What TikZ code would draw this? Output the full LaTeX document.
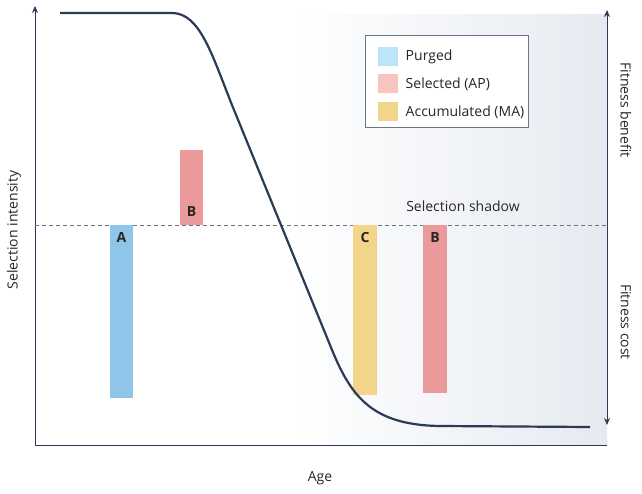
\documentclass[tikz,border=0pt]{standalone}
\usepackage{fontspec}
\setmainfont{Open Sans}
\usetikzlibrary{arrows.meta,positioning}
\definecolor{navy}{HTML}{2B3A55}
\definecolor{barblue}{HTML}{8EC5E8}
\definecolor{barpink}{HTML}{EA9A9B}
\definecolor{baryellow}{HTML}{F2D48A}
\definecolor{keyblue}{HTML}{BDE5F8}
\definecolor{keypink}{HTML}{F9C5C0}
\definecolor{shadow}{HTML}{E6EAF0}
\begin{document}
\begin{tikzpicture}[x=1pt,y=-1pt,>={Stealth[length=7pt,width=6pt]},
                    every node/.style={font=\fontsize{14}{16}\selectfont,text=black!85},
                    barlabel/.style={font=\fontsize{14}{16}\selectfont\bfseries,anchor=north},
                    key/.style={minimum width=20pt,minimum height=19pt,inner sep=0pt}]
  \useasboundingbox (0,0) rectangle (642,494);
  % selection shadow
  \shade[left color=white,right color=shadow] (290,15) rectangle (607,445);

  % axes
  \draw[navy,line width=1pt,->] (35,445) -- (35,6);
  \draw[navy,line width=1pt] (35,445) -- (607,445);
  \draw[navy,line width=1pt,<->] (607,10) -- (607,425);
  \draw[navy!70,dash pattern=on 4pt off 3pt] (35,225) -- (607,225);

  % bars
  \fill[barblue]   (110,225) rectangle (133,398);
  \fill[barpink]   (180,150) rectangle (203,225);
  \fill[baryellow] (353,225) rectangle (377,395);
  \fill[barpink]   (423,225) rectangle (447,393);
  \node[barlabel] (labA)  at (121.5,229) {A};
  \node[barlabel] (labB1) at (191.5,203) {B};
  \node[barlabel] (labC)  at (365,229)   {C};
  \node[barlabel] (labB2) at (435,229)   {B};

  % curve
  \draw[navy,line width=2.2pt] (60,13) -- (172,13)
       .. controls (200,13) and (212,55) .. (232,105)
       -- (330,345)
       .. controls (350,395) and (370,425) .. (440,426) -- (590,427);

  % legend
  \node[draw=navy!70,minimum width=163pt,minimum height=92pt,fill=white] (legend) at (446.5,81) {};
  \node[key,fill=keyblue]   (kP) at (388,57) {};
  \node[key,fill=keypink]   (kS) at (388,84) {};
  \node[key,fill=baryellow] (kM) at (388,112) {};
  \node[right=4pt of kP,anchor=west] {Purged};
  \node[right=4pt of kS,anchor=west] {Selected (AP)};
  \node[right=4pt of kM,anchor=west] {Accumulated (MA)};

  % texts
  \node (shadowlab) at (463,206) {Selection shadow};
  \node[rotate=90] (ylab) at (14,230) {Selection intensity};
  \node (xlab) at (320,478) {Age};
  \node[rotate=-90] (benefit) at (626,110) {Fitness benefit};
  \node[rotate=-90] (cost) at (626,322) {Fitness cost};
\end{tikzpicture}
\end{document}
